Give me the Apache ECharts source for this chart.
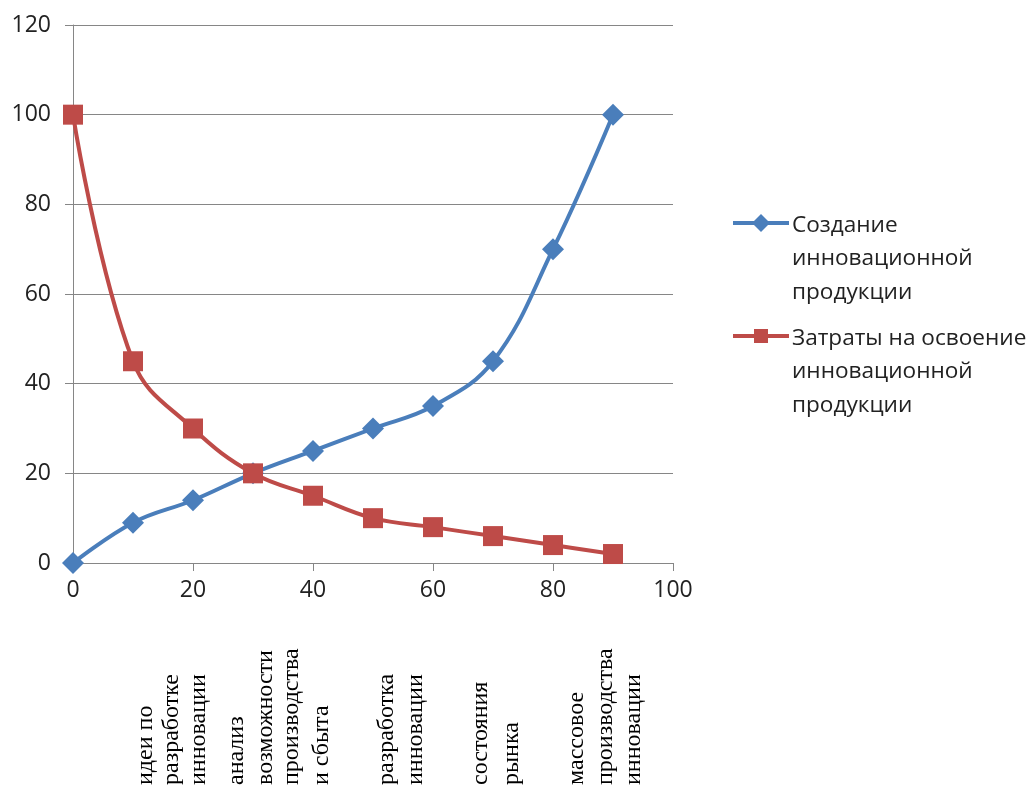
<!DOCTYPE html>
<html>
<head>
<meta charset="utf-8">
<script src="https://cdn.jsdelivr.net/npm/echarts@6/dist/echarts.min.js"></script>
<style>
html,body{margin:0;padding:0;background:#fff;}
#c{width:1029px;height:787px;}
</style>
</head>
<body>
<div id="c"></div>
<script>
const xValues = [0, 10, 20, 30, 40, 50, 60, 70, 80, 90];
const creation = [0, 9, 14, 20, 25, 30, 35, 45, 70, 100];
const costs = [100, 45, 30, 20, 15, 10, 8, 6, 4, 2];
const seriesNames = ['Создание\nинновационной\nпродукции', 'Затраты на освоение\nинновационной\nпродукции'];
const stageLabels = [
  {x: 10, lines: ['идеи по', 'разработке', 'инновации']},
  {x: 30, lines: ['анализ', 'возможности', 'производства', 'и сбыта']},
  {x: 50, lines: ['разработка', 'инновации']},
  {x: 70, lines: ['состояния', 'рынка']},
  {x: 85, lines: ['массовое', 'производства', 'инновации']}
];
const stageLinePos = [
  [147, 173, 200],
  [238, 267, 293, 323],
  [388, 417],
  [482, 513],
  [578, 607, 635]
];

const blue = '#4A7EBB', red = '#BE4B48', gray = '#868686';
const chart = echarts.init(document.getElementById('c'), null, {renderer: 'canvas'});

const graphics = [];
// legend
function legendItem(y, color, symbol, text) {
  graphics.push({type: 'line', shape: {x1: 733, y1: y, x2: 789, y2: y}, style: {stroke: color, lineWidth: 4}});
  if (symbol === 'diamond') {
    graphics.push({type: 'polygon', shape: {points: [[761, y - 9], [770, y], [761, y + 9], [752, y]]}, style: {fill: color}});
  } else {
    graphics.push({type: 'rect', shape: {x: 754, y: y - 7, width: 14, height: 14}, style: {fill: color}});
  }
  graphics.push({type: 'text', x: 792, y: y + 2 - 16.5, style: {text: text, fill: '#222', font: '22.6px "Open Sans"', lineHeight: 33.5, verticalAlign: 'top', align: 'left'}});
}
legendItem(223, blue, 'diamond', seriesNames[0]);
legendItem(336, red, 'rect', seriesNames[1]);

// bottom stage labels
stageLabels.forEach((g, gi) => {
  g.lines.forEach((t, li) => {
    graphics.push({type: 'text', x: stageLinePos[gi][li] - 1, y: 785, rotation: Math.PI / 2,
      style: {text: t, fill: '#000', font: '24px "Liberation Serif"', align: 'left', verticalAlign: 'middle'}});
  });
});

chart.setOption({
  animation: false,
  backgroundColor: '#fff',
  grid: {left: 73, right: 356, top: 25, bottom: 224, containLabel: false},
  xAxis: {
    type: 'value', min: 0, max: 100, interval: 20,
    axisLine: {show: true, lineStyle: {color: gray, width: 1}},
    axisTick: {show: true, length: 8, lineStyle: {color: gray}},
    splitLine: {show: false},
    axisLabel: {color: '#222', fontSize: 23, fontFamily: 'Open Sans', margin: 16}
  },
  yAxis: {
    type: 'value', min: 0, max: 120, interval: 20,
    axisLine: {show: true, lineStyle: {color: gray, width: 1}},
    axisTick: {show: true, length: 8, lineStyle: {color: gray}},
    splitLine: {show: true, lineStyle: {color: gray, width: 1}},
    axisLabel: {color: '#222', fontSize: 23, fontFamily: 'Open Sans', margin: 22}
  },
  series: [
    {
      name: seriesNames[0], type: 'line', smooth: 0.4,
      data: xValues.map((x, i) => [x, creation[i]]),
      symbol: 'diamond', symbolSize: 22,
      lineStyle: {color: blue, width: 4},
      itemStyle: {color: blue}
    },
    {
      name: seriesNames[1], type: 'line', smooth: 0.4,
      data: xValues.map((x, i) => [x, costs[i]]),
      symbol: 'rect', symbolSize: 20,
      lineStyle: {color: red, width: 4},
      itemStyle: {color: red}
    }
  ],
  graphic: graphics
});
</script>
</body>
</html>
